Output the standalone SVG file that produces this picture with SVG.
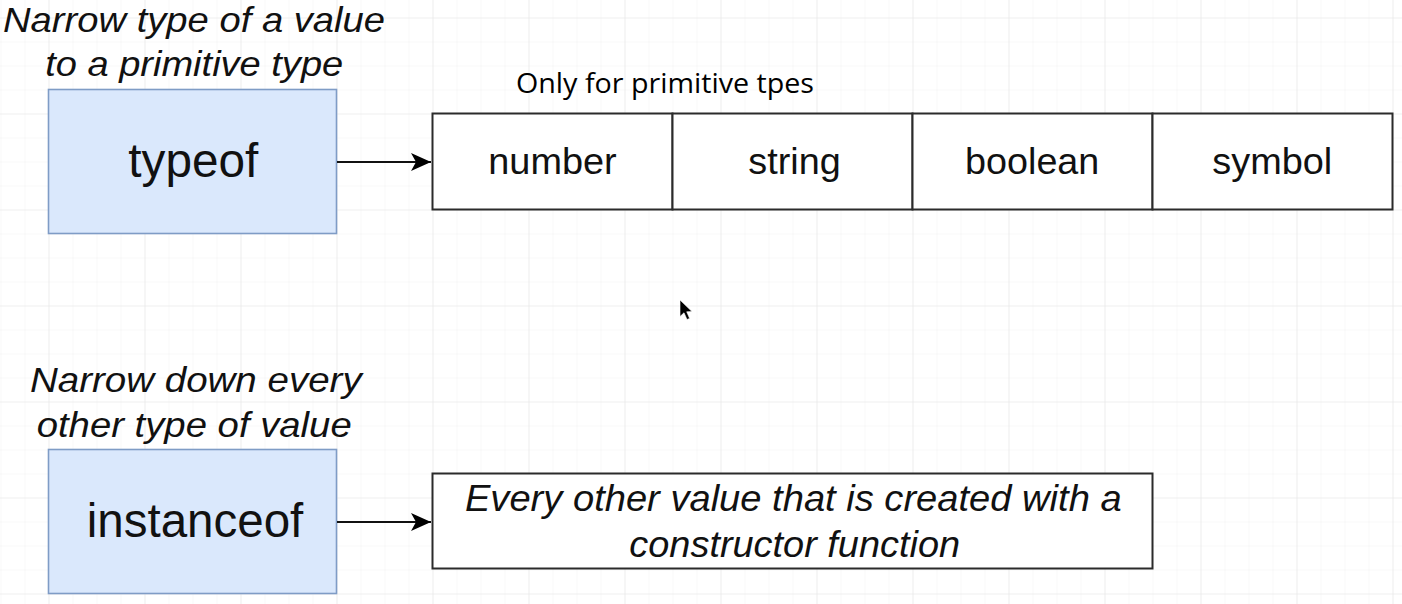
<svg xmlns="http://www.w3.org/2000/svg" width="1402" height="604" viewBox="0 0 1402 604">
  <defs>
    <pattern id="minor" x="0.5" y="17.5" width="24" height="24" patternUnits="userSpaceOnUse">
      <path d="M0,0 H24 M0,0 V24" fill="none" stroke="#f1f1f1" stroke-width="1"/>
    </pattern>
    <pattern id="major" x="48.5" y="17.5" width="96" height="96" patternUnits="userSpaceOnUse">
      <path d="M0,0 H96 M0,0 V96" fill="none" stroke="#e9e9e9" stroke-width="1.2"/>
    </pattern>
    <marker id="arrow" viewBox="0 0 20 20" refX="20" refY="10" markerWidth="20" markerHeight="20" markerUnits="userSpaceOnUse" orient="auto">
      <path d="M20,10 L0,1 L5,10 L0,19 Z" fill="#000"/>
    </marker>
    <style>
      .label{font-family:"Liberation Sans",Arial,sans-serif;fill:#111;text-anchor:middle}
      .note{font-family:"Liberation Sans",Arial,sans-serif;font-style:italic;fill:#111;text-anchor:middle}
      .key{fill:#dae8fc;stroke:#7f9cc6;stroke-width:1.6}
      .cell{fill:#fff;stroke:#2b2b2b;stroke-width:2}
      .conn{stroke:#111;stroke-width:2.2;fill:none}
    </style>
  </defs>

  <rect width="1402" height="604" fill="#fff"/>
  <rect width="1402" height="604" fill="url(#minor)"/>
  <rect width="1402" height="604" fill="url(#major)"/>

  <g id="title-typeof">
    <text class="note" x="194" y="31.7" font-size="35" textLength="382" lengthAdjust="spacingAndGlyphs">Narrow type of a value</text>
    <text class="note" x="194.2" y="76" font-size="35" textLength="298" lengthAdjust="spacingAndGlyphs">to a primitive type</text>
  </g>

  <g id="node-typeof">
    <rect class="key" x="48.5" y="89.5" width="288" height="144"/>
    <text class="label" x="193.3" y="176.7" font-size="48" textLength="130" lengthAdjust="spacingAndGlyphs">typeof</text>
  </g>

  <g id="note-primitive">
    <text x="665" y="93.3" font-family="'Open Sans','Noto Sans',sans-serif" font-size="27" fill="#000" text-anchor="middle" textLength="298" lengthAdjust="spacingAndGlyphs">Only for primitive tpes</text>
  </g>

  <g id="node-primitives">
    <rect class="cell" x="432.5" y="113.5" width="240" height="96"/>
    <rect class="cell" x="672.5" y="113.5" width="240" height="96"/>
    <rect class="cell" x="912.5" y="113.5" width="240" height="96"/>
    <rect class="cell" x="1152.5" y="113.5" width="240" height="96"/>
    <text class="label" x="552.5" y="173.5" font-size="37" textLength="128.4" lengthAdjust="spacingAndGlyphs">number</text>
    <text class="label" x="794.5" y="173.5" font-size="37" textLength="92.4" lengthAdjust="spacingAndGlyphs">string</text>
    <text class="label" x="1032.2" y="173.5" font-size="37" textLength="134.3" lengthAdjust="spacingAndGlyphs">boolean</text>
    <text class="label" x="1272.3" y="173.5" font-size="37" textLength="120" lengthAdjust="spacingAndGlyphs">symbol</text>
  </g>

  <g id="title-instanceof">
    <text class="note" x="195.8" y="391.7" font-size="35" textLength="331.7" lengthAdjust="spacingAndGlyphs">Narrow down every</text>
    <text class="note" x="194.2" y="437.3" font-size="35" textLength="315" lengthAdjust="spacingAndGlyphs">other type of value</text>
  </g>

  <g id="node-instanceof">
    <rect class="key" x="48.5" y="449.5" width="288" height="144"/>
    <text class="label" x="195" y="537.3" font-size="48" textLength="216.6" lengthAdjust="spacingAndGlyphs">instanceof</text>
  </g>

  <g id="node-other">
    <rect class="cell" x="432.5" y="473.5" width="720" height="95"/>
    <text class="note" x="793.3" y="510.7" font-size="37" textLength="656.7" lengthAdjust="spacingAndGlyphs">Every other value that is created with a</text>
    <text class="note" x="794.7" y="557.3" font-size="37" textLength="330.7" lengthAdjust="spacingAndGlyphs">constructor function</text>
  </g>

  <g id="connectors">
    <line class="conn" x1="337" y1="162" x2="431" y2="162" marker-end="url(#arrow)"/>
    <line class="conn" x1="337" y1="522" x2="431" y2="522" marker-end="url(#arrow)"/>
  </g>

  <path d="M680,300 L680,316.5 L684,312.8 L687,319.5 L689.6,318.4 L686.7,311.8 L692,311.6 Z" fill="#000" stroke="#fff" stroke-width="0.6"/>
</svg>
